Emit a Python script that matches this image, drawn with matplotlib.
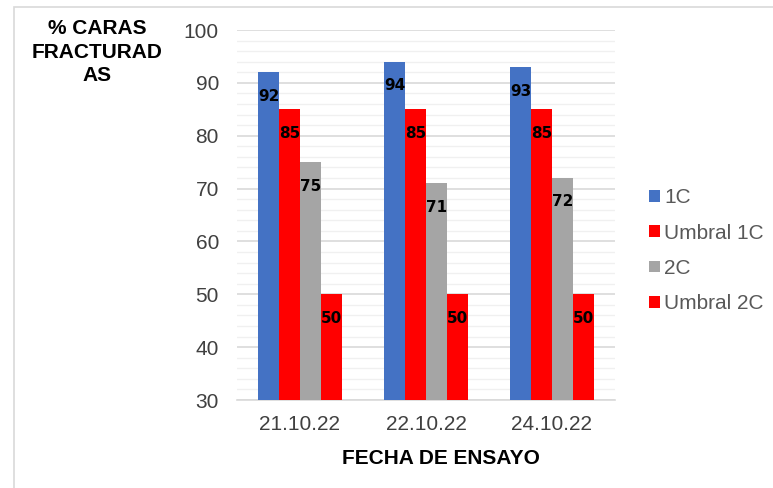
import matplotlib
matplotlib.use("Agg")
import matplotlib.pyplot as plt
import numpy as np
from matplotlib.patches import Rectangle, Patch
from matplotlib.ticker import MultipleLocator

categories = ["21.10.22", "22.10.22", "24.10.22"]
series_names = ["1C", "Umbral 1C", "2C", "Umbral 2C"]
values_1c = [92, 94, 93]
values_umbral_1c = [85, 85, 85]
values_2c = [75, 71, 72]
values_umbral_2c = [50, 50, 50]
colors = ["#4472C4", "#FF0000", "#A5A5A5", "#FF0000"]

plt.rcParams['font.family'] = ['Liberation Sans', 'DejaVu Sans']

fig = plt.figure(figsize=(7.73, 4.88), dpi=100)
ax = fig.add_axes([237/773, 1-400/488, (615-237)/773, (400-30)/488])

all_vals = [values_1c, values_umbral_1c, values_2c, values_umbral_2c]
x = np.arange(len(categories))
w = 1/6
for i, (vals, col, name) in enumerate(zip(all_vals, colors, series_names)):
    pos = x + (i - 1.5) * w
    ax.bar(pos, [v - 30 for v in vals], bottom=30, width=w, color=col, label=name, zorder=3)
    for p, v in zip(pos, vals):
        ax.annotate(str(v), (p, v), xytext=(0, -24), textcoords='offset pixels',
                    ha='center', va='center', fontsize=11, fontweight='bold',
                    family=['DejaVu Sans'], color='black', zorder=4)

ax.set_xlim(-0.5, 2.5)
ax.set_ylim(30, 100)
ax.yaxis.set_major_locator(MultipleLocator(10))
ax.yaxis.set_minor_locator(MultipleLocator(2))
ax.grid(axis='y', which='major', color='#D9D9D9', linewidth=1.2, zorder=0)
ax.grid(axis='y', which='minor', color='#F0F0F0', linewidth=1.0, zorder=0)
ax.set_axisbelow(True)
ax.set_xticks(x)
ax.set_xticklabels(categories)
ax.tick_params(axis='both', which='both', length=0, labelsize=15, colors='#404040')
ax.tick_params(axis='x', pad=11)
ax.tick_params(axis='y', pad=13)
for s in ['top', 'right', 'left']:
    ax.spines[s].set_visible(False)
ax.spines['bottom'].set_color('#D9D9D9')
ax.spines['bottom'].set_linewidth(1.2)

fig.text(97/773, 1-52/488, "% CARAS\nFRACTURAD\nAS", ha='center', va='center',
         fontsize=15, fontweight='bold', color='black', linespacing=1.3)
fig.text(441/773, 1-458/488, "FECHA DE ENSAYO", ha='center', va='center',
         fontsize=15, fontweight='bold', color='black')

handles = [Patch(facecolor=c, edgecolor='none') for c in colors]
leg = fig.legend(handles, series_names, loc='upper left', bbox_to_anchor=(639/773, 1-178/488),
                 frameon=False, fontsize=15, handlelength=0.5, handleheight=0.5,
                 handletextpad=0.2, labelspacing=0.78, borderpad=0)
for t in leg.get_texts():
    t.set_color('#595959')

fig.patches.append(Rectangle((14/773, -0.05), 1.2, 1-7/488+0.05, transform=fig.transFigure,
                             fill=False, edgecolor='#D9D9D9', linewidth=1.2))

fig.savefig("out.png", dpi=100)
